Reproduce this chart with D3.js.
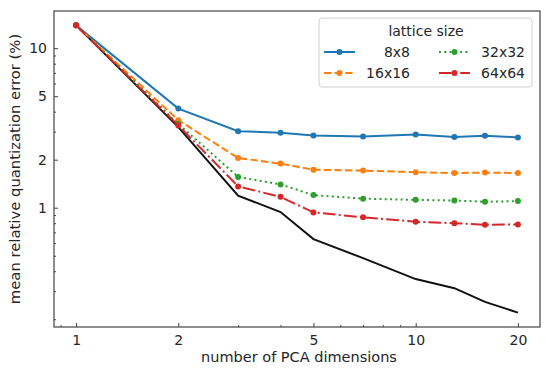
<!DOCTYPE html>
<html>
<head>
<meta charset="utf-8">
<script src="https://cdn.jsdelivr.net/npm/d3@7"></script>
<style>
  body { margin: 0; background: #fff; }
  text { font-family: "DejaVu Sans", sans-serif; fill: #262626; }
</style>
</head>
<body>
<div id="chart-area"></div>
<script>
// number of PCA dimensions
var dims = [1, 2, 3, 4, 5, 7, 10, 13, 16, 20];

// mean relative quantization error (%) per lattice size
var err8 = [13.9, 4.18, 3.02, 2.95, 2.84, 2.80, 2.88, 2.78, 2.83, 2.76];
var err16 = [13.9, 3.54, 2.05, 1.89, 1.73, 1.71, 1.67, 1.65, 1.66, 1.65];
var err32 = [13.9, 3.35, 1.56, 1.40, 1.20, 1.14, 1.12, 1.11, 1.09, 1.10];
var err64 = [13.9, 3.28, 1.36, 1.17, 0.935, 0.87, 0.817, 0.80, 0.782, 0.785];
var errPCA = [13.9, 3.2, 1.19, 0.94, 0.636, 0.483, 0.357, 0.313, 0.257, 0.220];

var seriesNames = ["8x8", "16x16", "32x32", "64x64"];
var xTicks = [1, 2, 5, 10, 20];
var yTicks = [1, 2, 5, 10];

var margin = {top: 11, left: 54, bottom: 44, right: 10},
    width = 550 - margin.left - margin.right,
    height = 371 - margin.top - margin.bottom;

var svg = d3.select("#chart-area").append("svg")
    .attr("width", 550)
    .attr("height", 371);
var g = svg.append("g")
    .attr("transform", "translate(" + margin.left + ", " + margin.top + ")");

// matplotlib-style 5% margins in log space
var xPad = 0.05 * Math.log10(20 / 1);
var x = d3.scaleLog()
    .domain([Math.pow(10, -xPad), Math.pow(10, Math.log10(20) + xPad)])
    .range([0, width]);
var yLo = Math.log10(0.220), yHi = Math.log10(13.9), yPad = 0.05 * (yHi - yLo);
var y = d3.scaleLog()
    .domain([Math.pow(10, yLo - yPad), Math.pow(10, yHi + yPad)])
    .range([height, 0]);

// minor ticks
var xMinor = [0.9, 3, 4, 6, 7, 8, 9].filter(function(v) {
    return v >= x.domain()[0] && v <= x.domain()[1];
});
var yMinor = [];
[0.1, 1, 10].forEach(function(dec) {
    for (var k = 2; k <= 9; k++) {
        var v = k * dec;
        if (v >= y.domain()[0] && v <= y.domain()[1] && yTicks.indexOf(+v.toFixed(6)) < 0) yMinor.push(v);
    }
});

var axisColor = "#444";

g.append("g")
    .attr("transform", "translate(0, " + height + ")")
    .call(d3.axisBottom(x).tickValues(xTicks).tickFormat(d3.format("d"))
        .tickSizeInner(-4).tickSizeOuter(0).tickPadding(8));
g.append("g")
    .attr("transform", "translate(0, " + height + ")")
    .call(d3.axisBottom(x).tickValues(xMinor).tickFormat("").tickSizeInner(-2).tickSizeOuter(0));

g.append("g")
    .call(d3.axisLeft(y).tickValues(yTicks).tickFormat(d3.format("d"))
        .tickSizeInner(-4).tickSizeOuter(0).tickPadding(7));
g.append("g")
    .call(d3.axisLeft(y).tickValues(yMinor).tickFormat("").tickSizeInner(-2).tickSizeOuter(0));

g.selectAll(".tick line").attr("stroke", axisColor);
g.selectAll(".domain").remove();
g.selectAll(".tick text")
    .style("font-family", "DejaVu Sans, sans-serif")
    .style("font-size", "14px")
    .attr("fill", "#262626");

// frame
g.append("rect")
    .attr("width", width)
    .attr("height", height)
    .attr("fill", "none")
    .attr("stroke", axisColor)
    .attr("stroke-width", 1.2);

var line = d3.line()
    .x(function(d) { return x(d[0]); })
    .y(function(d) { return y(d[1]); });

var series = [
    {name: seriesNames[0], values: err8, color: "#1f77b4", dash: null},
    {name: seriesNames[1], values: err16, color: "#ff7f0e", dash: "7.4,3.2"},
    {name: seriesNames[2], values: err32, color: "#2ca02c", dash: "2,3.3"},
    {name: seriesNames[3], values: err64, color: "#d62728", dash: "12.8,3.2,2,3.2"}
];

var plot = g.append("g");

plot.append("path")
    .attr("fill", "none")
    .attr("stroke", "#111")
    .attr("stroke-width", 2)
    .attr("d", line(d3.zip(dims, errPCA)));

series.forEach(function(s) {
    var pts = d3.zip(dims, s.values);
    plot.append("path")
        .attr("fill", "none")
        .attr("stroke", s.color)
        .attr("stroke-width", 2)
        .attr("stroke-dasharray", s.dash)
        .attr("d", line(pts));
    plot.selectAll(null)
        .data(pts)
        .enter().append("circle")
        .attr("cx", function(d) { return x(d[0]); })
        .attr("cy", function(d) { return y(d[1]); })
        .attr("r", 3)
        .attr("fill", s.color);
});

// axis labels
svg.append("text")
    .attr("x", margin.left + width / 2 + 2)
    .attr("y", 362)
    .attr("text-anchor", "middle")
    .style("font-size", "14.5px")
    .text("number of PCA dimensions");

svg.append("text")
    .attr("transform", "translate(20, " + (margin.top + height / 2) + ") rotate(-90)")
    .attr("text-anchor", "middle")
    .style("font-size", "14.8px")
    .text("mean relative quantization error (%)");

// legend
var leg = svg.append("g").attr("transform", "translate(319, 18)");
leg.append("rect")
    .attr("width", 213)
    .attr("height", 69)
    .attr("rx", 3)
    .attr("fill", "#fff")
    .attr("fill-opacity", 0.85)
    .attr("stroke", "#d0d0d0");
leg.append("text")
    .attr("x", 107)
    .attr("y", 18)
    .attr("text-anchor", "middle")
    .style("font-size", "14px")
    .text("lattice size");

var legPos = [[5, 34], [5, 55], [120, 34], [120, 55]];
series.forEach(function(s, i) {
    var p = legPos[i];
    var item = leg.append("g").attr("transform", "translate(" + p[0] + ", " + p[1] + ")");
    item.append("line")
        .attr("x1", 0).attr("x2", 31)
        .attr("stroke", s.color)
        .attr("stroke-width", 2)
        .attr("stroke-dasharray", s.dash);
    item.append("circle")
        .attr("cx", 15.5).attr("r", 3)
        .attr("fill", s.color);
    item.append("text")
        .attr("x", 86)
        .attr("y", 5)
        .attr("text-anchor", "end")
        .style("font-size", "14px")
        .text(s.name);
});
</script>
</body>
</html>
